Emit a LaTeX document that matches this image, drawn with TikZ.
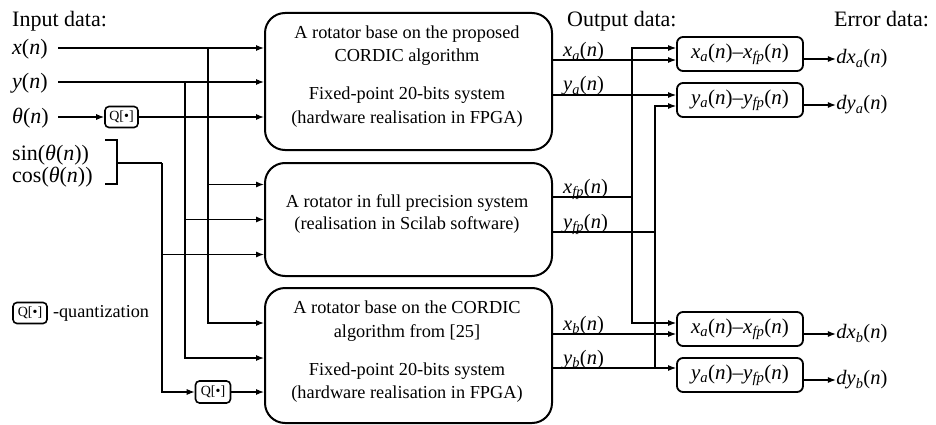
\documentclass[tikz,border=0pt]{standalone}
\usepackage{fontspec}
\setmainfont{Liberation Serif}
\usetikzlibrary{arrows.meta}
\newcommand\iv[1]{\textit{#1}}
\newcommand\sbi[1]{\textsubscript{\textit{#1}}}
\begin{document}
\begin{tikzpicture}[x=1pt,y=-1pt,
  conn/.style={line width=1.1pt},
  arr/.style={conn,-{Latex[length=8pt,width=6pt]}},
  bigbox/.style={draw,line width=2pt,rounded corners=20pt,minimum width=287pt,inner sep=0pt},
  diffbox/.style={draw,line width=1.8pt,rounded corners=6pt,minimum width=126pt,minimum height=34pt,inner sep=0pt,font=\fontsize{21}{24}\selectfont},
  qbox/.style={draw,line width=1.6pt,rounded corners=4pt,minimum width=33pt,minimum height=21pt,inner sep=0pt,font=\fontsize{14}{16}\selectfont},
  boxtxt/.style={anchor=base,font=\fontsize{18.3}{22}\selectfont,inner sep=0pt},
  hdr/.style={anchor=base west,font=\fontsize{22}{24}\selectfont,inner sep=0pt},
  inlbl/.style={anchor=base west,font=\fontsize{22}{24}\selectfont,inner sep=0pt},
  outlbl/.style={anchor=base west,font=\fontsize{20.5}{22}\selectfont,inner sep=0pt},
  errlbl/.style={anchor=west,font=\fontsize{20.5}{22}\selectfont,inner sep=0pt},
]
\useasboundingbox (0,0) rectangle (936,425);

% headers
\node[hdr] (hin) at (12,27) {Input data:};
\node[hdr] (hout) at (567,27) {Output data:};
\node[hdr] (herr) at (834,27) {Error data:};

% big boxes
\node[bigbox,minimum height=137pt] (A) at (408.5,81.5) {};
\node[bigbox,minimum height=113pt] (FP) at (408.5,219.5) {};
\node[bigbox,minimum height=135pt] (B) at (408.5,355.5) {};

\node[boxtxt] (A1) at (407,39) {A rotator base on the proposed};
\node[boxtxt] (A2) at (407,62) {CORDIC algorithm};
\node[boxtxt] (A3) at (407,100) {Fixed-point 20-bits system};
\node[boxtxt] (A4) at (407,124) {(hardware realisation in FPGA)};

\node[boxtxt] (F1) at (407,207) {A rotator in full precision system};
\node[boxtxt] (F2) at (407,229) {(realisation in Scilab software)};

\node[boxtxt] (B1) at (407,313) {A rotator base on the CORDIC};
\node[boxtxt] (B2) at (407,337) {algorithm from [25]};
\node[boxtxt] (B3) at (407,375) {Fixed-point 20-bits system};
\node[boxtxt] (B4) at (407,398) {(hardware realisation in FPGA)};

% input labels
\node[inlbl] (xin) at (12,55) {\iv{x}(\iv{n})};
\node[inlbl] (yin) at (12,89) {\iv{y}(\iv{n})};
\node[inlbl] (thin) at (12,124) {\iv{θ}(\iv{n})};
\node[inlbl] (sinl) at (12,160) {sin(\iv{θ}(\iv{n}))};
\node[inlbl] (cosl) at (12,182) {cos(\iv{θ}(\iv{n}))};

% Q boxes
\node[qbox] (Qa) at (121.5,117) {Q[•]};
\node[qbox,minimum width=35pt,minimum height=22pt] (Qb) at (213,392) {Q[•]};
\node[qbox,minimum width=34pt] (Qleg) at (30,313) {Q[•]};
\node[anchor=west,font=\fontsize{18.2}{22}\selectfont,inner sep=0pt] (qtxt) at ([xshift=5pt]Qleg.east) {-quantization};

% coordinates of line starts / junctions
\coordinate (xs) at (58,48);
\coordinate (ys) at (58,82);
\coordinate (ts) at (58,117);
\coordinate (jx) at (208,48);
\coordinate (jy) at (185,82);
\coordinate (brk) at (117,163);
\coordinate (js) at (162,163);

% inputs
\draw[arr] (xs) -- (A.west |- xs);
\draw[arr] (ys) -- (A.west |- ys);
\draw[arr] (ts) -- (Qa.west);
\draw[arr] (Qa.east) -- (A.west |- Qa.east);
\draw[conn] (105,140) -- (117,140) -- (117,184) -- (105,184);
\draw[conn] (brk) -- (js);
\draw[arr] (jx) |- ([yshift=35pt]FP.west);
\draw[arr] (jx) |- ([yshift=32.5pt]B.west);
\draw[arr] (jy) |- (FP.west);
\draw[arr] (jy) |- ([yshift=-2.5pt]B.west);
\draw[arr] (js) |- ([yshift=-35pt]FP.west);
\draw[arr] (js) |- (Qb.west);
\draw[arr] (Qb.east) -- (B.west |- Qb.east);

% diff boxes
\node[diffbox] (D1) at (740,54) {\iv{x}\sbi{a}(\iv{n})–\iv{x}\sbi{fp}(\iv{n})};
\node[diffbox] (D2) at (740,100) {\iv{y}\sbi{a}(\iv{n})–\iv{y}\sbi{fp}(\iv{n})};
\node[diffbox] (D3) at (740,329) {\iv{x}\sbi{a}(\iv{n})–\iv{x}\sbi{fp}(\iv{n})};
\node[diffbox] (D4) at (740,375) {\iv{y}\sbi{a}(\iv{n})–\iv{y}\sbi{fp}(\iv{n})};

\coordinate (D1a) at ([yshift=6pt]D1.west);
\coordinate (D1b) at ([yshift=-6pt]D1.west);
\coordinate (D2a) at ([yshift=5pt]D2.west);
\coordinate (D2b) at ([yshift=-6pt]D2.west);
\coordinate (D3a) at ([yshift=6pt]D3.west);
\coordinate (D3b) at ([yshift=-5pt]D3.west);
\coordinate (D4a) at ([yshift=7pt]D4.west);

% outputs of big boxes
\coordinate (Ax) at (A.east |- D1b);
\coordinate (Ay) at (A.east |- D2a);
\coordinate (FPx) at ([yshift=22.5pt]FP.east);
\coordinate (FPy) at ([yshift=-12.5pt]FP.east);
\coordinate (Bx) at (B.east |- D3b);
\coordinate (By) at (B.east |- D4a);
\coordinate (jfx) at ([xshift=79pt]FPx);
\coordinate (jfy) at ([xshift=102pt]FPy);

\node[outlbl] (lxa) at (563,57) {\iv{x}\sbi{a}(\iv{n})};
\node[outlbl] (lya) at (563,91) {\iv{y}\sbi{a}(\iv{n})};
\node[outlbl] (lxf) at (563,193) {\iv{x}\sbi{fp}(\iv{n})};
\node[outlbl] (lyf) at (563,228) {\iv{y}\sbi{fp}(\iv{n})};
\node[outlbl] (lxb) at (563,330) {\iv{x}\sbi{b}(\iv{n})};
\node[outlbl] (lyb) at (563,364) {\iv{y}\sbi{b}(\iv{n})};

\draw[arr] (Ax) -- (D1b);
\draw[arr] (Ay) -- (D2a);
\draw[conn] (FPx) -- (jfx);
\draw[arr] (jfx) |- (D1a);
\draw[arr] (jfx) |- (D3a);
\draw[conn] (FPy) -- (jfy);
\draw[arr] (jfy) |- (D2b);
\draw[conn] (jfy) -- (jfy |- By);
\draw[arr] (Bx) -- (D3b);
\draw[arr] (By) -- (D4a);

% error outputs
\draw[arr] ([yshift=-5pt]D1.east) -- ++(32,0) node[errlbl] (E1) {\iv{dx}\sbi{a}(\iv{n})};
\draw[arr] ([yshift=-5pt]D2.east) -- ++(32,0) node[errlbl] (E2) {\iv{dy}\sbi{a}(\iv{n})};
\draw[arr] ([yshift=-5pt]D3.east) -- ++(32,0) node[errlbl] (E3) {\iv{dx}\sbi{b}(\iv{n})};
\draw[arr] ([yshift=-5pt]D4.east) -- ++(32,0) node[errlbl] (E4) {\iv{dy}\sbi{b}(\iv{n})};
\end{tikzpicture}
\end{document}
